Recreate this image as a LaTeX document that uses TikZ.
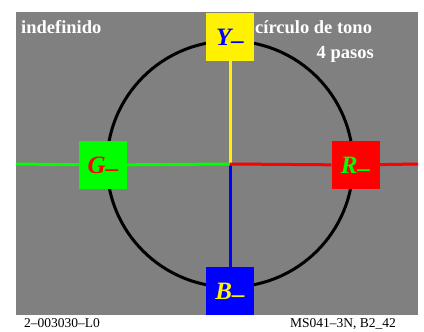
\documentclass[tikz,border=0pt]{standalone}
\usepackage{fontspec}
\setmainfont{Liberation Serif}
\usetikzlibrary{positioning}
\tikzstyle{hue}=[minimum size=48pt,inner sep=0pt,text depth=0pt,font=\fontsize{25}{25}\selectfont\bfseries\itshape]
\tikzstyle{ray}=[line width=3pt]
\tikzstyle{lbl}=[white,inner sep=0pt,font=\fontsize{18.5}{20}\selectfont\bfseries]
\tikzstyle{foot}=[black,inner sep=0pt,font=\fontsize{13.5}{14}\selectfont]

\begin{document}
\begin{tikzpicture}[x=1pt,y=-1pt]
                    \useasboundingbox (0,0) rectangle (424,332);
                    \fill[gray] (16,12) rectangle (418,315);
                    \draw[line width=3pt] (230,164) circle (123pt);
                    \coordinate (c) at (230,164);
                    \coordinate (w) at (16,164);
                    \coordinate (e) at (418,164);
                    \foreach \p/\n/\f/\t/\l in {{230,37}/y1/yellow/blue/Y, {103,165}/g1/green/red/G, {355.5,165}/r1/red/green/R, {230,291}/b1/blue/yellow/B}
                        \node[hue,fill=\f,text=\t] (\n) at (\p) {\l\raisebox{-0.12em}{--}};
                    \draw[ray,yellow] (c) -- (y1);
                    \draw[ray,blue] (c) -- (b1);
                    \draw[ray,green] (w) -- (g1) (g1) -- (c);
                    \draw[ray,red] (c) -- (r1) (r1) -- (e);
                    \node[lbl,anchor=base west] (ind) at (21,34) {indefinido};
                    \node[lbl,anchor=base west] (cir) at (255,34) {círculo de tono};
                    \node[lbl,anchor=base east] (pas) at (374,59) {4 pasos};
                    \node[foot,anchor=base west] (code) at (24,327) {2--003030--L0};
                    \node[foot,anchor=base east] (ms) at (396,327) {MS041--3N, B2\_42};
                \end{tikzpicture}
\end{document}
